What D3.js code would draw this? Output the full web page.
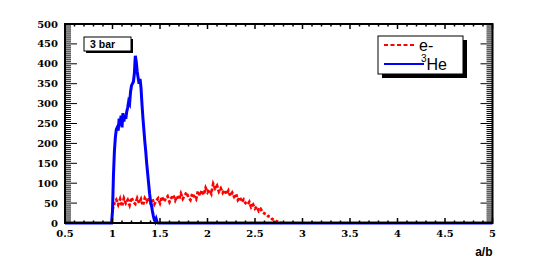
<!DOCTYPE html>
<html><head><meta charset="utf-8">
<script src="https://cdn.jsdelivr.net/npm/d3@7"></script>
<style>body{margin:0;background:#fff}svg{display:block}</style>
</head><body>
<script>
// ---- data ----
const xTicks = [0.5,1,1.5,2,2.5,3,3.5,4,4.5,5];
const xTickLabels = ["0.5","1","1.5","2","2.5","3","3.5","4","4.5","5"];
const yTicks = [0,50,100,150,200,250,300,350,400,450,500];
const yTickLabels = ["0","50","100","150","200","250","300","350","400","450","500"];

// 3He (blue) histogram line
const heX = [0.5,0.99,1.00,1.01,1.02,1.03,1.04,1.05,1.06,1.07,1.08,1.09,1.10,1.11,1.12,1.13,1.14,1.15,1.16,1.17,1.18,1.19,1.20,1.21,1.22,1.23,1.24,1.25,1.26,1.27,1.28,1.29,1.30,1.31,1.32,1.33,1.34,1.35,1.36,1.37,1.38,1.39,1.40,1.41,1.42,1.43,1.44,1.45,1.46,1.47,1.48,5.0];
const heY = [0,0,30,120,180,215,235,240,232,262,245,270,240,276,255,270,262,280,290,305,300,330,345,350,355,375,420,405,380,365,350,362,340,300,265,235,205,180,150,125,100,75,55,45,30,18,8,3,10,2,0,0];

// e- (red) histogram
const eX = [1.00,1.02,1.04,1.06,1.08,1.10,1.12,1.14,1.16,1.18,1.20,1.22,1.24,1.26,1.28,1.30,1.32,1.34,1.36,1.38,1.40,1.42,1.44,1.46,1.48,1.50,1.52,1.54,1.56,1.58,1.60,1.62,1.64,1.66,1.68,1.70,1.72,1.74,1.76,1.78,1.80,1.82,1.84,1.86,1.88,1.90,1.92,1.94,1.96,1.98,2.00,2.02,2.04,2.06,2.08,2.10,2.12,2.14,2.16,2.18,2.20,2.22,2.24,2.26,2.28,2.30,2.32,2.34,2.36,2.38,2.40,2.42,2.44,2.46,2.48,2.50,2.52,2.54,2.56,2.58,2.60,2.62,2.64,2.66,2.68,2.70,2.72,2.74,2.76,2.78];
const eY = [33,50,58,46,60,42,62,50,58,45,64,53,48,62,50,60,44,62,54,64,50,60,47,56,62,50,66,54,61,67,53,63,70,57,68,59,74,61,69,77,64,58,74,67,60,80,69,82,71,88,77,84,74,98,87,94,79,87,76,83,72,81,68,76,66,73,58,65,53,59,50,46,53,40,46,36,41,30,35,27,24,22,17,15,10,8,5,3,1,0];

const labelText = "3 bar";
const legendNames = ["e-","He"];
const xTitle = "a/b";

// ---- layout ----
const W = 545, H = 273;
const L = 65, R = 492.5, T = 24, B = 223;
const svg = d3.select("body").append("svg").attr("width",W).attr("height",H);

const x = d3.scaleLinear().domain([0.5,5]).range([L,R]);
const y = d3.scaleLinear().domain([0,500]).range([B,T]);

// data lines
const lineE = d3.line().x((d,i)=>x(eX[i])).y(d=>y(d));
svg.append("path").datum(eY).attr("d",lineE)
  .attr("fill","none").attr("stroke","#ff0000").attr("stroke-width",2.8)
  .attr("stroke-dasharray","3,2");

const lineH = d3.line().x((d,i)=>x(heX[i])).y(d=>y(d));
svg.append("path").datum(heY).attr("d",lineH)
  .attr("fill","none").attr("stroke","#0000ff").attr("stroke-width",3)
  .attr("stroke-linejoin","miter");

// frame
svg.append("rect").attr("x",L).attr("y",T).attr("width",R-L).attr("height",B-T)
  .attr("fill","none").attr("stroke","#000").attr("stroke-width",2);

// y ticks (left & right, inward)
const yMinor = d3.range(0,501,5);
const gt = svg.append("g").attr("stroke","#000").attr("stroke-width",1);
yMinor.forEach(v=>{
  const major = v%50===0;
  const len = major?12:6;
  gt.append("line").attr("x1",L).attr("x2",L+len).attr("y1",y(v)).attr("y2",y(v));
  gt.append("line").attr("x1",R).attr("x2",R-len).attr("y1",y(v)).attr("y2",y(v));
});
// x ticks (bottom & top, inward)
const xMinor = d3.range(5,51,1).map(v=>v/10);
xMinor.forEach(v=>{
  const major = Math.abs(v*2-Math.round(v*2))<1e-6;
  const len = major?5:2.5;
  gt.append("line").attr("x1",x(v)).attr("x2",x(v)).attr("y1",B).attr("y2",B-len).attr("stroke-width",1.5);
  gt.append("line").attr("x1",x(v)).attr("x2",x(v)).attr("y1",T).attr("y2",T+len).attr("stroke-width",1.5);
});

// tick labels
const tickFont = "'DejaVu Serif','Liberation Serif',serif";
svg.append("g").selectAll("text").data(yTicks).join("text")
  .attr("x",L-7).attr("y",d=>y(d)+3.5).attr("text-anchor","end")
  .attr("font-family",tickFont).attr("font-weight","bold").attr("font-size",10)
  .text((d,i)=>yTickLabels[i]);
svg.append("g").selectAll("text").data(xTicks).join("text")
  .attr("x",d=>x(d)).attr("y",236.5).attr("text-anchor","middle")
  .attr("font-family",tickFont).attr("font-weight","bold").attr("font-size",10)
  .text((d,i)=>xTickLabels[i]);

// axis title
svg.append("text").attr("x",R).attr("y",256).attr("text-anchor","end")
  .attr("font-family","'Liberation Sans',Arial,sans-serif").attr("font-weight","bold").attr("font-size",12)
  .text(xTitle);

// "3 bar" label box
const sans = "'Liberation Sans',Arial,sans-serif";
svg.append("rect").attr("x",86).attr("y",39).attr("width",47).attr("height",14).attr("fill","#000");
svg.append("rect").attr("x",84).attr("y",37).attr("width",47).attr("height",14).attr("fill","#fff").attr("stroke","#000").attr("stroke-width",1);
svg.append("text").attr("x",90).attr("y",48).attr("font-family",sans).attr("font-weight","bold").attr("font-size",10.5).text(labelText);

// legend
svg.append("rect").attr("x",382).attr("y",40).attr("width",85).attr("height",38).attr("fill","#000");
svg.append("rect").attr("x",378).attr("y",36).attr("width",85).attr("height",38).attr("fill","#fff").attr("stroke","#000").attr("stroke-width",1);
svg.append("line").attr("x1",384).attr("x2",415).attr("y1",45).attr("y2",45)
  .attr("stroke","#ff0000").attr("stroke-width",2).attr("stroke-dasharray","4,2.5");
svg.append("line").attr("x1",384).attr("x2",424).attr("y1",64).attr("y2",64)
  .attr("stroke","#0000ff").attr("stroke-width",2);
svg.append("text").attr("x",419).attr("y",51).attr("font-family",sans).attr("font-size",16).text(legendNames[0]);
const t2 = svg.append("text").attr("x",421).attr("y",70).attr("font-family",sans).attr("font-size",16);
t2.append("tspan").attr("font-size",10).attr("dy",-8).text("3");
t2.append("tspan").attr("dy",8).text(legendNames[1]);
</script>
</body></html>
